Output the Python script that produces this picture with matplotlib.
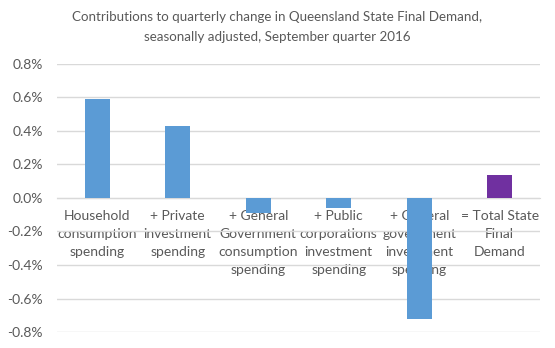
import matplotlib
matplotlib.use('Agg')
from matplotlib import pyplot as plt
from matplotlib.ticker import FuncFormatter

# Data
categories = ['Household\nconsumption\nspending',
              '+ Private\ninvestment\nspending',
              '+ General\nGovernment\nconsumption\nspending',
              '+ Public\ncorporations\ninvestment\nspending',
              '+ General\ngovernment\ninvestment\nspending',
              '= Total State\nFinal\nDemand']
values = [0.59, 0.43, -0.09, -0.06, -0.72, 0.14]
bar_colors = ['#5B9BD5'] * 5 + ['#7030A0']
yticks = [-0.8, -0.6, -0.4, -0.2, 0.0, 0.2, 0.4, 0.6, 0.8]

text_col = '#595959'
plt.rcParams['font.family'] = ['Lato', 'DejaVu Sans']

fig = plt.figure(figsize=(5.55, 3.48), dpi=100)
ax = fig.add_axes([57 / 555, 1 - 332 / 348, 483 / 555, 268 / 348])

x = list(range(len(categories)))
ax.bar(x, values, width=0.31, color=bar_colors, zorder=2)

ax.set_xlim(-0.5, len(categories) - 0.5)
ax.set_ylim(-0.8, 0.8)
ax.set_yticks(yticks)
ax.yaxis.set_major_formatter(FuncFormatter(lambda v, p: '{:.1f}%'.format(v)))
ax.grid(axis='y', color='#D9D9D9', lw=1, zorder=0)
ax.set_axisbelow(True)

for s in ['top', 'right', 'left']:
    ax.spines[s].set_visible(False)
ax.spines['bottom'].set_position(('data', 0))
ax.spines['bottom'].set_color('#D9D9D9')
ax.spines['bottom'].set_zorder(1)

ax.set_xticks(x)
ax.set_xticklabels(categories, linespacing=1.6)
ax.tick_params(axis='x', length=0, pad=9, labelsize=10, colors=text_col)
ax.tick_params(axis='y', length=0, pad=10, labelsize=10, colors=text_col)

fig.text(0.5, 1 - 27 / 348, 'Contributions to quarterly change in Queensland State Final Demand,\n'
         'seasonally adjusted, September quarter 2016',
         ha='center', va='center', fontsize=9.6, color=text_col, linespacing=1.85)

fig.savefig('out.png', dpi=100)
